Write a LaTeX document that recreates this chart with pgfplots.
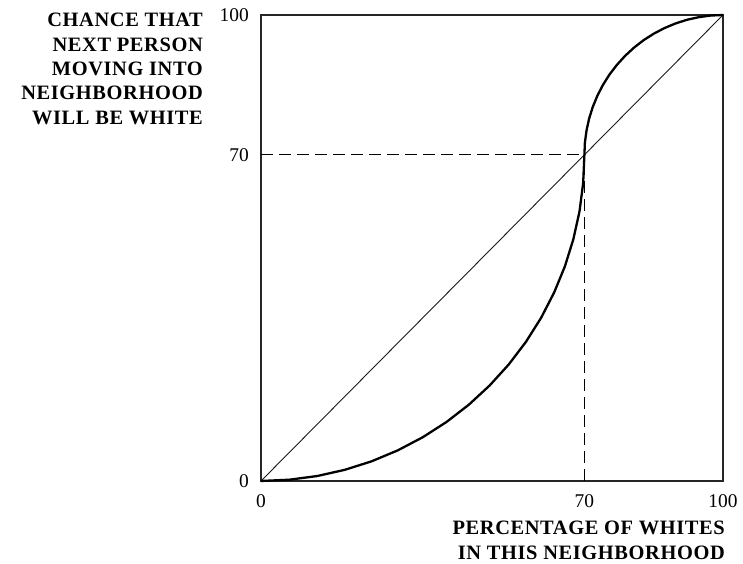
\documentclass[border=0pt]{standalone}
\usepackage{fontspec}
\setmainfont{Liberation Serif}
\usepackage{pgfplots}
\pgfplotsset{compat=1.18}
\begin{document}
\begin{tikzpicture}
\begin{axis}[
  scale only axis, width=462bp, height=466bp,
  xmin=0, xmax=100, ymin=0, ymax=100,
  xtick={0,70,100}, ytick={0,70,100},
  major tick length=0pt,
  /pgf/number format/assume math mode=true,
  tick label style={font=\fontsize{19.5}{19.5}\selectfont, inner sep=0pt},
  yticklabel style={xshift=-12bp},
  xticklabel style={yshift=-13bp},
  axis line style={black!85, line width=1.2bp},
  clip=false,
]
\addplot[black, line width=1.2bp, dash pattern=on 12bp off 6bp] coordinates {(0,70) (70,70)};
\addplot[black, line width=1.2bp, dash pattern=on 12bp off 6bp] coordinates {(70,0) (70,70)};
\addplot[black!90, line width=0.9bp] coordinates {(0,0) (100,100)};
\addplot[black, line width=2.3bp] coordinates {
(0,0) (6.10,0.27) (12.15,1.06) (18.12,2.39) (23.94,4.22) (29.58,6.56) (35.00,9.38)
(40.15,12.66) (45.00,16.38) (49.50,20.50) (53.62,25.00) (57.34,29.85) (60.62,35.00)
(63.44,40.42) (65.78,46.06) (67.61,51.88) (68.94,57.85) (69.73,63.90) (70,70)
(70.11,72.62) (70.46,75.21) (71.02,77.76) (71.81,80.26) (72.81,82.68) (74.02,85.00)
(75.42,87.21) (77.02,89.28) (78.79,91.21) (80.72,92.98) (82.79,94.58) (85.00,95.98)
(87.32,97.19) (89.74,98.19) (92.24,98.98) (94.79,99.54) (97.38,99.89) (100,100)
};
\node[anchor=north east, align=right, inner sep=0pt,
  font=\fontsize{20.5}{24.5}\selectfont\bfseries\addfontfeatures{LetterSpace=3}]
  at (rel axis cs:-0.1255,1.0043)
  {CHANCE THAT\\NEXT PERSON\\MOVING INTO\\NEIGHBORHOOD\\WILL BE WHITE};
\node[anchor=north east, align=right, inner sep=0pt,
  font=\fontsize{20.5}{25}\selectfont\bfseries\addfontfeatures{LetterSpace=3}]
  at (rel axis cs:1.0043,-0.0858)
  {PERCENTAGE OF WHITES\\IN THIS NEIGHBORHOOD};
\coordinate (bl) at (rel axis cs:-0.565,-0.178);
\coordinate (tr) at (rel axis cs:1.0433,1.0322);
\end{axis}
\pgfresetboundingbox
\path[use as bounding box] (bl) rectangle (tr);
\end{tikzpicture}
\end{document}
